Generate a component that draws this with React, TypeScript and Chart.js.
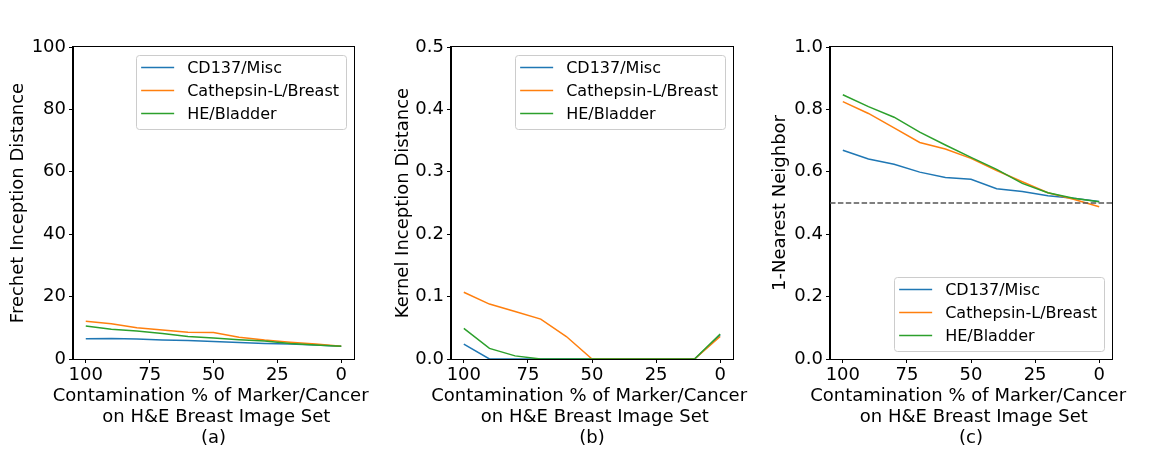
import React, { useEffect, useRef } from 'react';
import { Chart, registerables } from 'chart.js';

Chart.register(...registerables);

// ---------- data ----------
const CONTAMINATION = [100, 90, 80, 70, 60, 50, 40, 30, 20, 10, 0];
const X_TICKS = [100, 75, 50, 25, 0];
const SERIES_LABELS = ['CD137/Misc', 'Cathepsin-L/Breast', 'HE/Bladder'];
const SERIES_COLORS = ['#1f77b4', '#ff7f0e', '#2ca02c'];

const FID_CD137 = [6.5, 6.6, 6.4, 6.1, 5.9, 5.6, 5.3, 5.0, 4.8, 4.5, 4.1];
const FID_CATHEPSIN = [12.1, 11.3, 10.0, 9.3, 8.6, 8.5, 7.0, 6.1, 5.4, 4.8, 4.1];
const FID_HE = [10.6, 9.5, 9.0, 8.2, 7.2, 6.7, 6.2, 5.8, 5.0, 4.5, 4.1];

const KID_CD137 = [0.024, 0, 0, 0, 0, 0, 0, 0, 0, 0, 0.038];
const KID_CATHEPSIN = [0.107, 0.088, 0.076, 0.064, 0.036, 0, 0, 0, 0, 0, 0.036];
const KID_HE = [0.049, 0.017, 0.005, 0, 0, 0, 0, 0, 0, 0, 0.04];

const NN_CD137 = [0.669, 0.641, 0.624, 0.599, 0.582, 0.576, 0.546, 0.537, 0.523, 0.515, 0.505];
const NN_CATHEPSIN = [0.825, 0.787, 0.741, 0.694, 0.673, 0.643, 0.604, 0.568, 0.533, 0.512, 0.488];
const NN_HE = [0.847, 0.809, 0.775, 0.727, 0.686, 0.646, 0.608, 0.563, 0.533, 0.515, 0.504];
const NN_CHANCE = 0.5;

const X_TITLE = ['Contamination % of Marker/Cancer ', ' on H&E Breast Image Set'];

const FONT = '"DejaVu Sans", "Liberation Sans", sans-serif';
Chart.defaults.font.family = FONT;
Chart.defaults.color = '#000';

type PanelProps = {
  plotLeft: number;
  plotRight: number;
  yTitleX: number;
  yTitle: string;
  yMax: number;
  yStep: number;
  decimals: number;
  series: number[][];
  letter: string;
  legendPos: 'upper' | 'lower';
  refLine?: number;
};

const PLOT_TOP = 47;
const PLOT_BOTTOM = 359;
const H = 468;
const TITLE_LH = 1.15;

function Panel(p: PanelProps) {
  const ref = useRef<HTMLCanvasElement | null>(null);
  const canvasLeft = p.yTitleX - 12;
  const padRight = 20;
  const width = p.plotRight + padRight - canvasLeft;
  const yW = p.plotLeft - canvasLeft;

  useEffect(() => {
    if (!ref.current) return;
    const datasets: any[] = p.series.map((vals, i) => ({
      label: SERIES_LABELS[i],
      data: CONTAMINATION.map((x, j) => ({ x, y: vals[j] })),
      borderColor: SERIES_COLORS[i],
      backgroundColor: SERIES_COLORS[i],
      borderWidth: 1.5,
      pointRadius: 0,
      tension: 0,
      fill: false,
      order: 2 - i,
    }));
    if (p.refLine !== undefined) {
      datasets.push({
        label: 'chance',
        data: [
          { x: -5, y: p.refLine },
          { x: 105, y: p.refLine },
        ],
        borderColor: '#555555',
        borderWidth: 1.5,
        borderDash: [5.5, 2.4],
        pointRadius: 0,
        fill: false,
        order: -1,
      });
    }

    const framePlugin = {
      id: 'frameAndLegend',
      afterDraw(chart: any) {
        const { ctx, chartArea } = chart;
        const l = Math.round(chartArea.left) - 0.5;
        const t = Math.round(chartArea.top) - 0.5;
        const r = Math.round(chartArea.right) + 0.5;
        const b = Math.round(chartArea.bottom) + 0.5;
        ctx.save();
        ctx.strokeStyle = '#000';
        ctx.lineWidth = 1;
        ctx.strokeRect(l, t, r - l, b - t);

        // x-axis title (multi-line, centred under the plot)
        const lh = 18 * TITLE_LH;
        const lines = [...X_TITLE, p.letter];
        const cx = (chartArea.left + chartArea.right) / 2;
        const lastY = 438;
        ctx.font = `18px ${FONT}`;
        ctx.fillStyle = '#000';
        ctx.textAlign = 'center';
        ctx.textBaseline = 'middle';
        lines.forEach((s, i) => {
          ctx.fillText(s, cx, lastY - (lines.length - 1 - i) * lh);
        });

        // legend
        ctx.font = `16px ${FONT}`;
        let textW = 0;
        SERIES_LABELS.forEach((s) => {
          textW = Math.max(textW, ctx.measureText(s).width);
        });
        const padL = 5, handle = 33, gap = 13, padR = 7, rowH = 23, boxH = 74;
        const boxW = padL + handle + gap + textW + padR;
        const bx = chartArea.right - 8 - boxW;
        const by = p.legendPos === 'upper' ? chartArea.top + 8 : chartArea.bottom - 8 - boxH;
        ctx.beginPath();
        (ctx as any).roundRect(Math.round(bx) + 0.5, Math.round(by) + 0.5, Math.round(boxW), boxH, 3);
        ctx.fillStyle = 'rgba(255,255,255,0.8)';
        ctx.fill();
        ctx.strokeStyle = '#cccccc';
        ctx.lineWidth = 1;
        ctx.stroke();
        SERIES_LABELS.forEach((s, i) => {
          const cy = by + 12.5 + i * rowH;
          ctx.beginPath();
          ctx.strokeStyle = SERIES_COLORS[i];
          ctx.lineWidth = 1.5;
          ctx.moveTo(bx + padL, cy);
          ctx.lineTo(bx + padL + handle, cy);
          ctx.stroke();
          ctx.fillStyle = '#000';
          ctx.textAlign = 'left';
          ctx.textBaseline = 'alphabetic';
          ctx.fillText(s, bx + padL + handle + gap, cy + 5.8);
        });
        ctx.restore();
      },
    };

    const chart = new Chart(ref.current, {
      type: 'line',
      data: { datasets },
      plugins: [framePlugin],
      options: {
        responsive: false,
        animation: false,
        events: [],
        layout: { padding: { top: PLOT_TOP, right: padRight, left: 0, bottom: 0 } },
        plugins: { legend: { display: false }, tooltip: { enabled: false } },
        scales: {
          x: {
            type: 'linear',
            reverse: true,
            min: -5,
            max: 105,
            afterBuildTicks: (scale: any) => {
              scale.ticks = X_TICKS.map((v) => ({ value: v }));
            },
            afterFit: (scale: any) => {
              scale.height = H - PLOT_BOTTOM;
            },
            grid: {
              display: true,
              drawOnChartArea: false,
              drawTicks: true,
              tickLength: 4,
              color: '#000',
              lineWidth: 1,
            },
            border: { display: true, color: '#000', width: 1 },
            ticks: {
              autoSkip: false,
              maxRotation: 0,
              padding: 2,
              color: '#000',
              font: { size: 18, family: FONT },
              callback: (v: any) => String(v),
            },
            title: { display: false },
          },
          y: {
            type: 'linear',
            min: 0,
            max: p.yMax,
            afterFit: (scale: any) => {
              scale.width = yW;
            },
            grid: {
              display: true,
              drawOnChartArea: false,
              drawTicks: true,
              tickLength: 4,
              color: '#000',
              lineWidth: 1,
            },
            border: { display: true, color: '#000', width: 1 },
            ticks: {
              stepSize: p.yStep,
              padding: 3,
              color: '#000',
              font: { size: 18, family: FONT },
              callback: (v: any) => Number(v).toFixed(p.decimals),
            },
            title: {
              display: true,
              text: p.yTitle,
              color: '#000',
              font: { size: 18, family: FONT, lineHeight: TITLE_LH },
              padding: { top: 12 - (18 * TITLE_LH) / 2, bottom: 0 },
            },
          },
        },
      } as any,
    });
    return () => chart.destroy();
  }, []);

  return (
    <canvas
      ref={ref}
      width={width}
      height={H}
      style={{ position: 'absolute', left: canvasLeft, top: 0, width, height: H }}
    />
  );
}

export default function App() {
  return (
    <div
      style={{
        position: 'absolute',
        left: 0,
        top: 0,
        width: 1152,
        height: 468,
        background: '#fff',
        overflow: 'hidden',
      }}
    >
      <Panel
        plotLeft={73}
        plotRight={354}
        yTitleX={18}
        yTitle="Frechet Inception Distance"
        yMax={100}
        yStep={20}
        decimals={0}
        series={[FID_CD137, FID_CATHEPSIN, FID_HE]}
        letter="(a)"
        legendPos="upper"
      />
      <Panel
        plotLeft={451}
        plotRight={733}
        yTitleX={403}
        yTitle="Kernel Inception Distance"
        yMax={0.5}
        yStep={0.1}
        decimals={1}
        series={[KID_CD137, KID_CATHEPSIN, KID_HE]}
        letter="(b)"
        legendPos="upper"
      />
      <Panel
        plotLeft={830}
        plotRight={1112}
        yTitleX={780}
        yTitle="1-Nearest Neighbor"
        yMax={1}
        yStep={0.2}
        decimals={1}
        series={[NN_CD137, NN_CATHEPSIN, NN_HE]}
        letter="(c)"
        legendPos="lower"
        refLine={NN_CHANCE}
      />
    </div>
  );
}
